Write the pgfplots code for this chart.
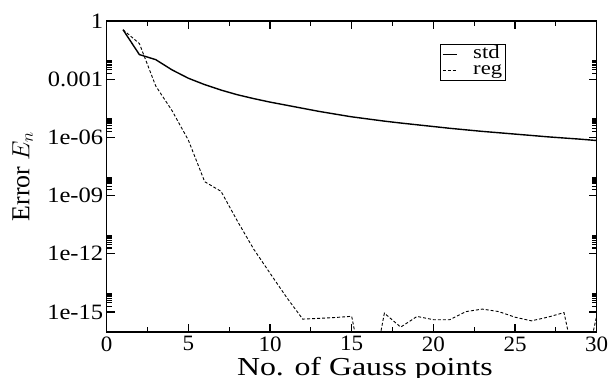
\documentclass[border=0pt]{standalone}
\usepackage{graphicx}
\usepackage{pgfplots}
\pgfplotsset{compat=1.18}
\usepackage{fontspec}
\setmainfont{Liberation Serif}
\begin{document}
\begin{tikzpicture}
\useasboundingbox (-106.7bp,-46bp) rectangle (502.3bp,332bp);
\begin{axis}[
  at={(0,0)}, anchor=south west,
  scale only axis, width=490bp, height=311bp,
  xmin=0, xmax=30, ymode=log, ymin=9.3e-17, ymax=1,
  axis line style={line width=1.4bp},
  every tick/.style={black, line width=1.1bp},
  tick align=inside,
  major tick length=8bp, minor tick length=5bp,
  xtick={0,5,10,15,20,25,30}, minor xtick={2.5,7.5,12.5,17.5,22.5,27.5},
  xticklabels={\scalebox{1.05}[1]{0},\scalebox{1.05}[1]{5},\scalebox{1.05}[1]{10},\scalebox{1.05}[1]{15},\scalebox{1.05}[1]{20},\scalebox{1.05}[1]{25},\scalebox{1.05}[1]{30}},
  ytick={1,1e-3,1e-6,1e-9,1e-12,1e-15},
  yticklabels={\scalebox{1.12}[1]{1},\scalebox{1.12}[1]{0.001},\scalebox{1.12}[1]{1e-06},\scalebox{1.12}[1]{1e-09},\scalebox{1.12}[1]{1e-12},\scalebox{1.12}[1]{1e-15}},
  minor ytick={2e-15,3e-15,4e-15,5e-15,6e-15,7e-15,8e-15,9e-15,
               2e-12,3e-12,4e-12,5e-12,6e-12,7e-12,8e-12,9e-12,
               2e-9,3e-9,4e-9,5e-9,6e-9,7e-9,8e-9,9e-9,
               2e-6,3e-6,4e-6,5e-6,6e-6,7e-6,8e-6,9e-6,
               2e-3,3e-3,4e-3,5e-3,6e-3,7e-3,8e-3,9e-3},
  tick label style={font=\fontsize{22}{22}\selectfont},
  xticklabel style={yshift=-1bp},
  xlabel={\scalebox{1.23}[1]{No. of Gauss points}},
  ylabel={Error $E_n$},
  xlabel style={font=\fontsize{26}{26}\selectfont, at={(axis description cs:0.527,0)}, anchor=base, yshift=-43bp},
  ylabel style={font=\fontsize{26}{26}\selectfont, at={(axis description cs:-0.158,0.5)}, anchor=base},
  legend style={at={(axis description cs:0.680,0.926)}, anchor=north west, draw=black, line width=0.9bp,
    inner xsep=1.5bp, inner ysep=2bp, font=\fontsize{19}{19}\selectfont, row sep=0bp,
    cells={anchor=west, text height=10.5bp, text depth=3.5bp, inner ysep=0bp, inner xsep=1.5bp},
    /tikz/every odd column/.append style={column sep=14bp}},
  legend image code/.code={\draw[#1] (0bp,0bp) -- (14bp,0bp);},
]
\addplot[black, line width=1.4bp] table {
x y
1 0.355
2 0.0186
3 0.0102
4 0.00302
5 0.00112
6 5.25e-4
7 2.75e-4
8 1.58e-4
9 1.0e-4
10 6.6e-5
11 4.57e-5
12 3.16e-5
13 2.19e-5
14 1.58e-5
15 1.15e-5
16 8.9e-6
17 6.9e-6
18 5.5e-6
19 4.47e-6
20 3.63e-6
21 2.95e-6
22 2.45e-6
23 2.04e-6
24 1.74e-6
25 1.48e-6
26 1.26e-6
27 1.07e-6
28 9.3e-7
29 8.1e-7
30 6.9e-7
};
\addplot[black, line width=0.9bp, dash pattern=on 3bp off 2bp] table {
x y
1 0.355
2 0.069
3 4.5e-4
4 2.4e-5
5 7.2e-7
6 5.2e-9
7 1.66e-9
8 4.9e-11
9 1.74e-12
10 1e-13
11 5.9e-15
12 4.3e-16
13 4.7e-16
14 5.2e-16
15 6.0e-16
16 3e-20
17 8.7e-16
18 1.66e-16
19 5.9e-16
20 4.0e-16
21 4.0e-16
22 1.05e-15
23 1.41e-15
24 1.05e-15
25 5.4e-16
26 3.5e-16
27 5.4e-16
28 9.3e-16
29 1e-19
30 6.3e-16
};
\legend{\scalebox{1.2}[1]{std}, \scalebox{1.2}[1]{reg}}
\end{axis}
\end{tikzpicture}
\end{document}
